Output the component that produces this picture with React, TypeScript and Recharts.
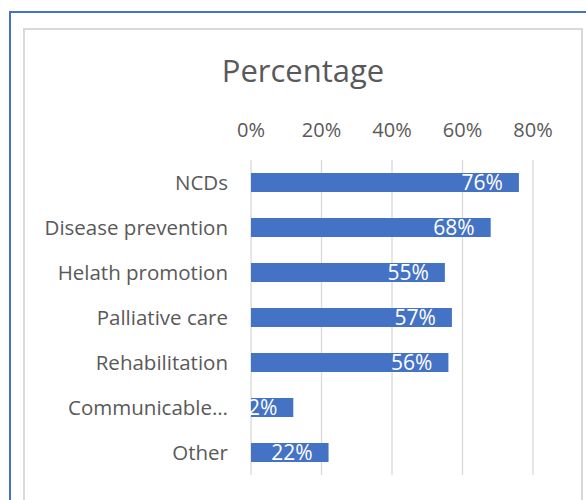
import React from 'react'
import {
  BarChart, Bar, XAxis, YAxis, CartesianGrid, LabelList
} from 'recharts'

const CATEGORIES = [
  'NCDs',
  'Disease prevention',
  'Helath promotion',
  'Palliative care',
  'Rehabilitation',
  'Communicable diseases',
  'Other',
]

const PERCENTAGES = [76, 68, 55, 57, 56, 12, 22]

const X_TICKS = [0, 20, 40, 60, 80]

const FONT = '"Open Sans", Lato, sans-serif'
const TEXT_GREY = '#595959'
const BAR_BLUE = '#4472C4'

const data = CATEGORIES.map((name, i) => ({ name, value: PERCENTAGES[i] }))

// long category names get cut with an ellipsis like the original sheet
const shortName = (name: string) =>
  name.length > 19 ? name.slice(0, 12) + '…' : name

export default function App() {
  return (
    <div
      style={{
        position: 'fixed', top: 0, left: 0, width: 586, height: 500,
        overflow: 'hidden', background: '#fff', fontFamily: FONT,
      }}
    >
      {/* outer blue frame */}
      <div
        style={{
          position: 'absolute', left: 9, top: 11, width: 700, height: 700,
          borderLeft: `2px solid ${BAR_BLUE}`, borderTop: `2px solid ${BAR_BLUE}`,
        }}
      />
      {/* chart area border */}
      <div
        style={{
          position: 'absolute', left: 23, top: 28, width: 556, height: 600,
          border: '2px solid #d9d9d9',
        }}
      />
      <div
        style={{
          position: 'absolute', left: 23, top: 49, width: 560,
          textAlign: 'center', fontSize: 31, color: TEXT_GREY,
        }}
      >
        Percentage
      </div>

      <div style={{ position: 'absolute', left: 0, top: 0 }}>
        <BarChart
          width={586}
          height={500}
          data={data}
          layout="vertical"
          margin={{ top: 130, right: 53, bottom: 25, left: 10 }}
          barSize={19}
        >
          <CartesianGrid horizontal={false} stroke="#d9d9d9" strokeWidth={1.3} />
          <XAxis
            type="number"
            orientation="top"
            domain={[0, 80]}
            ticks={X_TICKS}
            tickFormatter={(v: number) => `${v}%`}
            height={30}
            axisLine={false}
            tickLine={false}
            tickSize={0}
            tickMargin={23}
            tick={{ fill: TEXT_GREY, fontSize: 20, fontFamily: FONT }}
          />
          <YAxis
            type="category"
            dataKey="name"
            width={241}
            axisLine={false}
            tickLine={false}
            tickSize={0}
            tickMargin={23}
            interval={0}
            tickFormatter={shortName}
            tick={{ fill: TEXT_GREY, fontSize: 20.5, fontFamily: FONT }}
          />
          <Bar dataKey="value" fill={BAR_BLUE} isAnimationActive={false}>
            <LabelList
              dataKey="value"
              position="insideRight"
              offset={16}
              fill="#fff"
              fontSize={21}
              fontFamily={FONT}
              formatter={(v: number) => `${v}%`}
            />
          </Bar>
        </BarChart>
      </div>
    </div>
  )
}
